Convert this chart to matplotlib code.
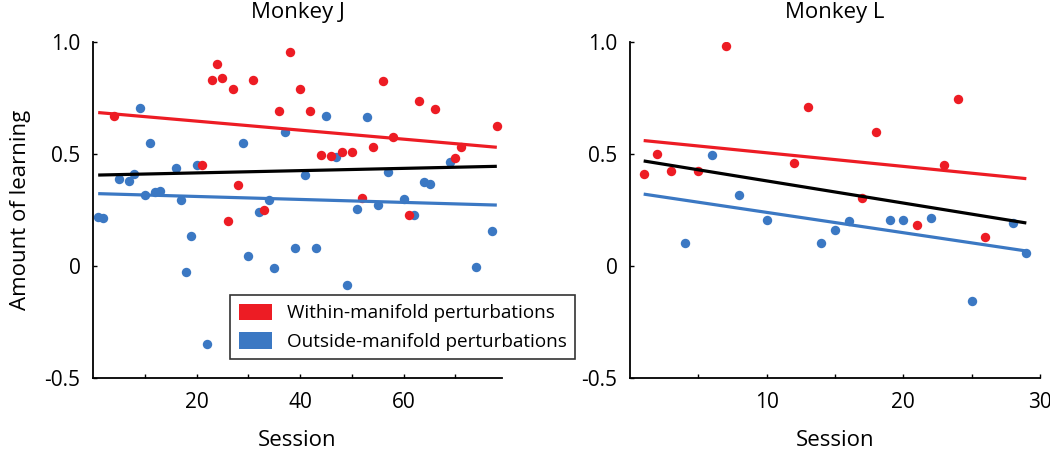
import numpy as np
import matplotlib.pyplot as plt
from matplotlib.patches import Patch

plt.rcParams['font.family'] = ['Open Sans', 'DejaVu Sans']

RED = '#ED1C24'
BLUE = '#3B78C3'

# Monkey J: session -> amount of learning
j_within_x = [4, 21, 23, 24, 25, 26, 27, 28, 31, 33, 36, 38, 40, 42, 44, 46, 48, 50,
              52, 54, 56, 58, 61, 63, 66, 70, 71, 78]
j_within_y = [0.67, 0.45, 0.83, 0.90, 0.84, 0.20, 0.79, 0.36, 0.83, 0.25, 0.69, 0.955,
              0.79, 0.69, 0.494, 0.49, 0.51, 0.51, 0.305, 0.53, 0.826, 0.578, 0.226,
              0.735, 0.70, 0.482, 0.53, 0.624]
j_outside_x = [1, 2, 5, 7, 8, 9, 10, 11, 12, 13, 16, 17, 18, 19, 20, 22, 29, 30, 32, 34,
               35, 37, 39, 41, 43, 45, 47, 49, 51, 53, 55, 57, 60, 62, 64, 65, 69, 74, 77]
j_outside_y = [0.22, 0.214, 0.39, 0.378, 0.41, 0.705, 0.317, 0.55, 0.33, 0.337, 0.436,
               0.295, -0.025, 0.134, 0.45, -0.35, 0.55, 0.046, 0.24, 0.295, -0.007, 0.60,
               0.079, 0.408, 0.079, 0.67, 0.487, -0.083, 0.253, 0.664, 0.272, 0.418, 0.30,
               0.226, 0.374, 0.368, 0.464, -0.004, 0.155]
j_fit_x = [1, 78]
j_fit_within = [0.685, 0.53]
j_fit_all = [0.406, 0.445]
j_fit_outside = [0.323, 0.272]

# Monkey L
l_within_x = [1, 2, 3, 5, 7, 12, 13, 17, 18, 21, 23, 24, 26]
l_within_y = [0.41, 0.499, 0.426, 0.423, 0.982, 0.46, 0.708, 0.304, 0.60, 0.185, 0.45,
              0.746, 0.13]
l_outside_x = [4, 6, 8, 10, 14, 15, 16, 19, 20, 22, 25, 28, 29]
l_outside_y = [0.104, 0.494, 0.319, 0.205, 0.101, 0.159, 0.20, 0.204, 0.207, 0.214,
               -0.158, 0.19, 0.058]
l_fit_x = [1, 29]
l_fit_within = [0.56, 0.39]
l_fit_all = [0.469, 0.192]
l_fit_outside = [0.321, 0.067]

fig = plt.figure(figsize=(10.5, 4.5), dpi=100)
ax1 = fig.add_axes([93 / 1050, 72 / 450, 409 / 1050, 336 / 450])
ax2 = fig.add_axes([630 / 1050, 72 / 450, 410 / 1050, 336 / 450])

panels = [
    (ax1, 'Monkey J', j_within_x, j_within_y, j_outside_x, j_outside_y,
     j_fit_x, j_fit_within, j_fit_all, j_fit_outside, (0, 79), [20, 40, 60], [10, 30, 50, 70]),
    (ax2, 'Monkey L', l_within_x, l_within_y, l_outside_x, l_outside_y,
     l_fit_x, l_fit_within, l_fit_all, l_fit_outside, (0, 30), [10, 20, 30], [5, 15, 25]),
]

for (ax, title, wx, wy, ox, oy, fx, fw, fa, fo, xlim, major, minor) in panels:
    ax.scatter(ox, oy, s=46, color=BLUE, linewidths=0, zorder=2)
    ax.scatter(wx, wy, s=46, color=RED, linewidths=0, zorder=3)
    ax.plot(fx, fw, color=RED, lw=2.3, zorder=4, solid_capstyle='butt')
    ax.plot(fx, fa, color='black', lw=2.3, zorder=4, solid_capstyle='butt')
    ax.plot(fx, fo, color=BLUE, lw=2.3, zorder=4, solid_capstyle='butt')

    ax.set_xlim(*xlim)
    ax.set_ylim(-0.5, 1.0)
    ax.set_xticks(major)
    ax.set_xticks(minor, minor=True)
    ax.set_yticks([-0.5, 0, 0.5, 1.0])
    ax.set_yticklabels(['-0.5', '0', '0.5', '1.0'])
    ax.tick_params(axis='both', which='both', direction='in', length=3, width=1,
                   labelsize=15)
    ax.tick_params(axis='x', which='both', pad=10)
    ax.tick_params(axis='y', pad=9)
    for side in ['top', 'right']:
        ax.spines[side].set_visible(False)
    for side in ['left', 'bottom']:
        ax.spines[side].set_linewidth(1.3)
    ax.set_title(title, fontsize=16, pad=17)
    ax.set_xlabel('Session', fontsize=16, labelpad=12)

ax1.set_ylabel('Amount of learning', fontsize=16, labelpad=10)

handles = [Patch(facecolor=RED, edgecolor='none', label='Within-manifold perturbations'),
           Patch(facecolor=BLUE, edgecolor='none', label='Outside-manifold perturbations')]
leg = fig.legend(handles=handles, loc='upper left', bbox_to_anchor=(230 / 1050, 1 - 295 / 450),
                 fontsize=13.6, frameon=True, fancybox=False, edgecolor='black',
                 borderaxespad=0, handlelength=1.75, handleheight=1.0,
                 borderpad=0.45, labelspacing=0.5, handletextpad=0.8)
leg.get_frame().set_linewidth(1.2)

fig.savefig('out.png', dpi=100)
